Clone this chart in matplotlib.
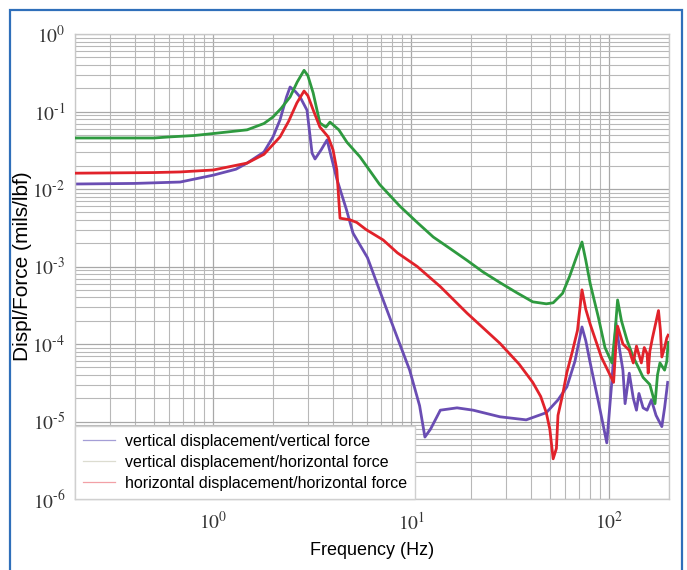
import math
import matplotlib
matplotlib.use("Agg")
import matplotlib.pyplot as plt
from matplotlib.lines import Line2D
from matplotlib.ticker import LogLocator, FixedLocator, FuncFormatter, NullFormatter

plt.rcParams['mathtext.fontset'] = 'stix'

# ---- data ----
f_vv = [0.2, 0.4, 0.68, 1.0, 1.3, 1.48, 1.8, 2.0, 2.17, 2.34, 2.44, 2.6, 2.74, 2.97, 3.15, 3.26,
        3.5, 3.75, 4.2, 4.7, 5.07, 6.0, 7.2, 8.5, 9.8, 11.0, 11.7, 12.5, 14, 17, 20.5, 28, 38,
        48, 55, 61, 67, 72.7, 76, 80, 88, 97, 103, 108, 113, 117, 120, 126, 132, 137, 141,
        148, 155, 163, 172, 184, 190, 197]
v_vv = [0.0116, 0.0118, 0.0123, 0.0151, 0.018, 0.0216, 0.03, 0.047, 0.078, 0.154, 0.207, 0.18,
        0.154, 0.104, 0.029, 0.0244, 0.032, 0.043, 0.0135, 0.0054, 0.0027, 0.0013, 3.7e-4,
        1.2e-4, 4.6e-5, 1.6e-5, 6.3e-6, 8e-6, 1.4e-5, 1.5e-5, 1.4e-5, 1.15e-5, 1.05e-5,
        1.3e-5, 1.9e-5, 2.8e-5, 6e-5, 1.66e-4, 1.1e-4, 5.7e-5, 1.8e-5, 5.3e-6, 3.4e-5,
        1.87e-4, 8e-5, 4.6e-5, 1.7e-5, 4.2e-5, 2e-5, 1.4e-5, 2.3e-5, 1.5e-5, 1.4e-5,
        1.9e-5, 1.2e-5, 8.6e-6, 1.5e-5, 3.2e-5]

f_vh = [0.2, 0.5, 0.6, 0.8, 1.0, 1.48, 1.8, 2.0, 2.2, 2.44, 2.65, 2.87, 3.0, 3.19, 3.45, 3.7,
        3.88, 4.3, 4.73, 5.5, 6.9, 8.75, 10.7, 12.9, 15.7, 19.1, 23, 28, 34, 41, 48, 52, 58,
        63, 68, 72.7, 76, 80, 88, 95, 103, 107, 110, 115, 123, 132, 140, 148, 160, 170, 175,
        180, 190, 195, 198]
v_vh = [0.0455, 0.0455, 0.047, 0.049, 0.052, 0.058, 0.07, 0.085, 0.11, 0.154, 0.24, 0.34,
        0.29, 0.174, 0.071, 0.063, 0.073, 0.058, 0.04, 0.026, 0.0115, 0.006, 0.0037, 0.0024,
        0.0017, 0.0012, 8.5e-4, 6.2e-4, 4.6e-4, 3.5e-4, 3.3e-4, 3.4e-4, 4.5e-4, 7.5e-4,
        1.3e-3, 2.07e-3, 1.2e-3, 6e-4, 2.2e-4, 9e-5, 5.7e-5, 1.5e-4, 3.7e-4, 2e-4, 1.1e-4,
        6.8e-5, 5e-5, 3.7e-5, 3e-5, 1.7e-5, 4e-5, 5.7e-5, 4.6e-5, 6e-5, 1.05e-4]

f_hh = [0.2, 0.5, 0.68, 1.0, 1.48, 1.8, 2.17, 2.4, 2.64, 2.87, 3.0, 3.19, 3.45, 3.8, 4.02,
        4.2, 4.36, 4.9, 5.3, 5.9, 7.2, 8.5, 10.7, 14, 19.1, 28, 35, 41, 45, 48, 50, 52, 54,
        55, 58, 61, 65, 69, 72.7, 76, 80, 91, 105, 108, 110, 117, 126, 132, 137, 145, 150,
        155, 157, 160, 165, 177, 181, 184, 190, 195, 198]
v_hh = [0.016, 0.0163, 0.0166, 0.0176, 0.0216, 0.028, 0.047, 0.075, 0.129, 0.184, 0.16,
        0.105, 0.063, 0.047, 0.032, 0.0177, 0.0042, 0.004, 0.0037, 0.003, 0.0022, 0.0015,
        1.0e-3, 5.5e-4, 2.5e-4, 1.02e-4, 5.5e-5, 3.2e-5, 2.1e-5, 1.3e-5, 8e-6, 3.3e-6,
        4.5e-6, 1.2e-5, 2.2e-5, 4.3e-5, 8e-5, 1.5e-4, 5e-4, 2.8e-4, 1.8e-4, 6.8e-5, 3.2e-5,
        1e-4, 1.7e-4, 1.0e-4, 8.3e-5, 5.7e-5, 9.4e-5, 5.7e-5, 9e-5, 7.5e-5, 4.2e-5, 8e-5,
        1.2e-4, 2.7e-4, 1.5e-4, 6.8e-5, 9e-5, 1.2e-4, 1.3e-4]

x_major = [1, 10, 100]
y_major = [1e-6, 1e-5, 1e-4, 1e-3, 1e-2, 1e-1, 1e0]

legend_labels = ["vertical displacement/vertical force",
                 "vertical displacement/horizontal force",
                 "horizontal displacement/horizontal force"]

# ---- figure ----
W, H = 687, 570
fig = plt.figure(figsize=(W / 100, H / 100), dpi=100)
fig.patch.set_facecolor('white')
# blue frame (open at the bottom)
bx0, bx1, by = 10 / W, 682 / W, 1 - 10 / H
fig.add_artist(Line2D([bx0, bx0, bx1, bx1], [0, by, by, 0], transform=fig.transFigure,
                      color='#2f6fba', lw=1.6, solid_joinstyle='miter'))

ax = fig.add_axes([75 / W, (H - 499) / H, (669 - 75) / W, (499 - 34) / H])
ax.set_xscale('log')
ax.set_yscale('log')
ax.set_xlim(0.2, 200)
ax.set_ylim(1e-6, 1)

ax.plot(f_vh, v_vh, color='#2e9a3f', lw=2.0, zorder=3)
ax.plot(f_hh, v_hh, color='#e1222a', lw=2.0, zorder=4)
ax.plot(f_vv, v_vv, color='#6a4db3', lw=2.0, zorder=2)


def fmt_func(v, p):
    e = int(round(math.log10(v)))
    if e < 0:
        return r'$10^{\text{-}%d}$' % (-e)
    return r'$10^{%d}$' % e


ax.xaxis.set_major_locator(FixedLocator(x_major))
ax.yaxis.set_major_locator(FixedLocator(y_major))
ax.xaxis.set_minor_locator(LogLocator(base=10, subs=range(2, 10), numticks=20))
ax.yaxis.set_minor_locator(LogLocator(base=10, subs=range(2, 10), numticks=20))
ax.xaxis.set_major_formatter(FuncFormatter(fmt_func))
ax.yaxis.set_major_formatter(FuncFormatter(fmt_func))
ax.xaxis.set_minor_formatter(NullFormatter())
ax.yaxis.set_minor_formatter(NullFormatter())
ax.tick_params(which='both', length=0, labelsize=14, colors='#333333')
ax.tick_params(axis='x', pad=9)
ax.tick_params(axis='y', pad=7)

ax.grid(True, which='major', color='#a8a8a8', lw=0.9)
ax.grid(True, which='minor', color='#b8b8b8', lw=0.8)
ax.set_axisbelow(True)
for s in ax.spines.values():
    s.set_color('#c8c8c8')
    s.set_linewidth(1.0)

ax.set_xlabel('Frequency (Hz)', fontsize=13, family='Liberation Sans', labelpad=6)
ax.set_ylabel('Displ/Force (mils/lbf)', fontsize=15, family='Liberation Sans')
ax.yaxis.set_label_coords((32 - 75) / 594, 0.5)

handles = [Line2D([], [], color='#a49ed6', lw=0.9),
           Line2D([], [], color='#dcdcd0', lw=0.9),
           Line2D([], [], color='#f2a0a6', lw=0.9)]
leg = ax.legend(handles, legend_labels, loc='lower left', bbox_to_anchor=(0, 0),
                borderaxespad=0, fancybox=False, framealpha=1, edgecolor='#d0d0d0',
                prop={'family': 'Liberation Sans', 'size': 11.5}, handlelength=2.0,
                handletextpad=0.6, labelspacing=0.38, borderpad=0.5)
leg.set_zorder(10)

fig.savefig('out.png', dpi=100, facecolor='white')
